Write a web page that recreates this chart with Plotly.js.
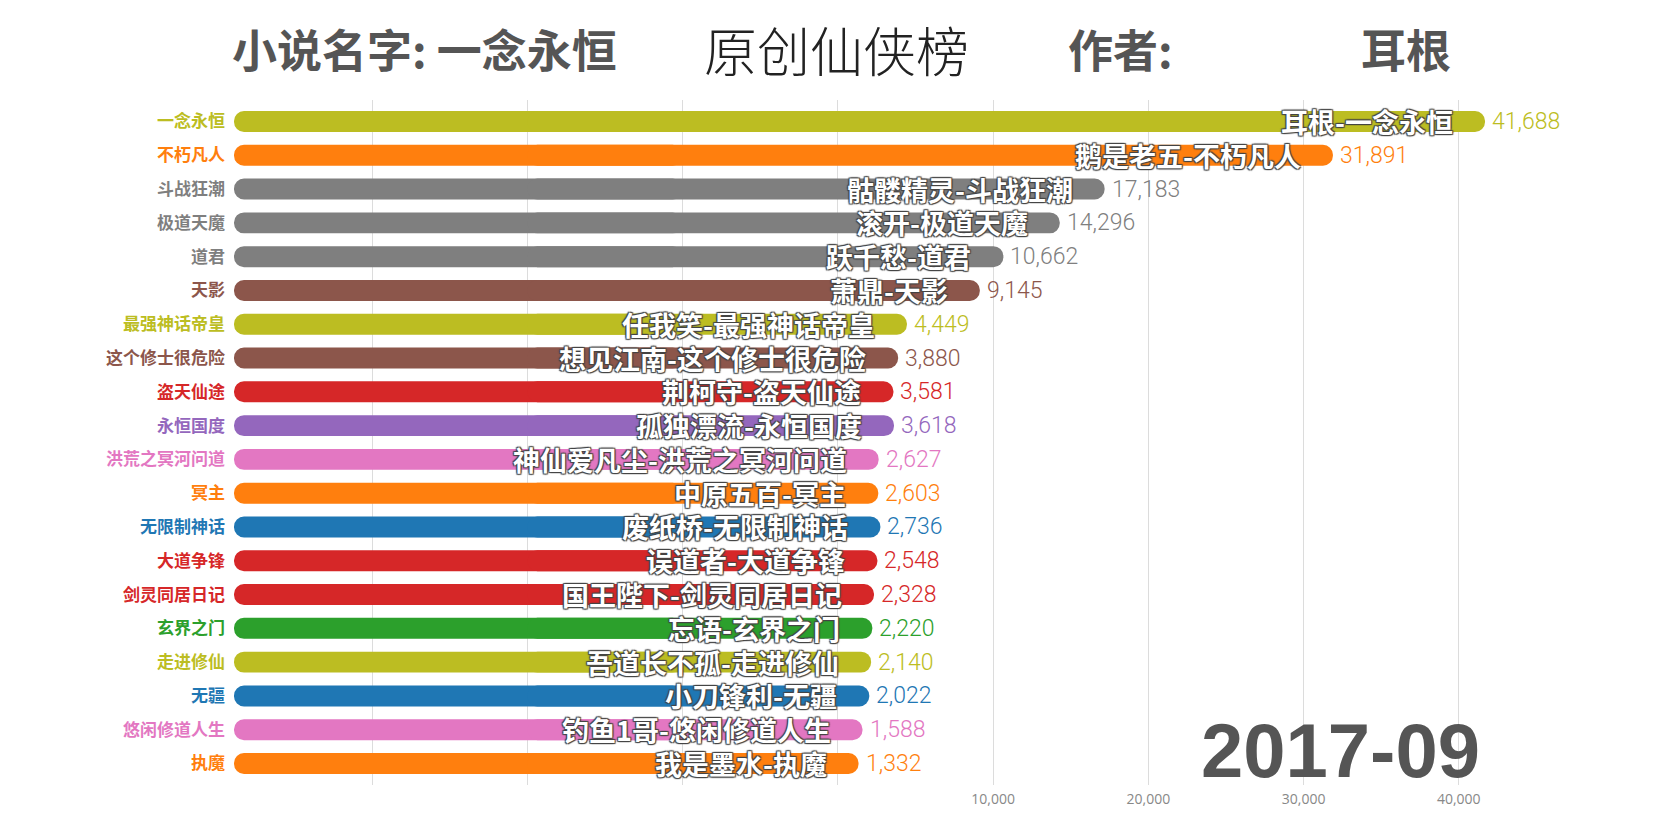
<!DOCTYPE html>
<html><head><meta charset="utf-8">
<script src="https://cdn.plot.ly/plotly-3.0.1.min.js"></script>
<style>html,body{margin:0;padding:0;background:#fff}</style>
</head><body>
<div id="chart" style="width:1680px;height:836px"></div>
<script>
// ---- data ----
const novels = ['一念永恒','不朽凡人','斗战狂潮','极道天魔','道君','天影','最强神话帝皇','这个修士很危险','盗天仙途','永恒国度','洪荒之冥河问道','冥主','无限制神话','大道争锋','剑灵同居日记','玄界之门','走进修仙','无疆','悠闲修道人生','执魔'];
const authors = ['耳根','鹅是老五','骷髅精灵','滚开','跃千愁','萧鼎','任我笑','想见江南','荆柯守','孤独漂流','神仙爱凡尘','中原五百','废纸桥','误道者','国王陛下','忘语','吾道长不孤','小刀锋利','钓鱼1哥','我是墨水'];
const values = [41688,31891,17183,14296,10662,9145,4449,3880,3581,3618,2627,2603,2736,2548,2328,2220,2140,2022,1588,1332];
const xTickVals = [-30000,-20000,-10000,0,10000,20000,30000,40000];
const xTickText = ['','','','','10,000','20,000','30,000','40,000'];
const period = '2017-09';
const titleNovel = '一念永恒';
const titleAuthor = '耳根';
const titleList = '原创仙侠榜';

// ---- styles ----
const C = {olive:'#bcbd22', orange:'#ff7f0e', gray:'#7f7f7f', brown:'#8c564b', red:'#d62728', purple:'#9467bd', pink:'#e377c2', blue:'#1f77b4', green:'#2ca02c'};
const barColors = [C.olive,C.orange,C.gray,C.gray,C.gray,C.brown,C.olive,C.brown,C.red,C.purple,C.pink,C.orange,C.blue,C.red,C.red,C.green,C.olive,C.blue,C.pink,C.orange];
const AXIS_MIN = -38900, AXIS_MAX = 48000;
const MAIN_BASE = -20000, TAIL_BASE = -10000;
const CJK = '"Noto Sans CJK SC", "Noto Sans", sans-serif';

// main bar: from MAIN_BASE to value (rounded right end)
const barMain = {
  type:'bar', orientation:'h', y: novels, x: values.map(v => v - MAIN_BASE), base: MAIN_BASE,
  marker:{color: barColors, cornerradius:'50%', line:{width:0}},
  hoverinfo:'skip', showlegend:false
};
// tail bar: from TAIL_BASE back to axis start (rounded left end), overlapping main bar
const barTail = {
  type:'bar', orientation:'h', y: novels, x: novels.map(() => AXIS_MIN - TAIL_BASE), base: TAIL_BASE,
  marker:{color: barColors, cornerradius:'50%', line:{width:0}},
  hoverinfo:'skip', showlegend:false
};

const annotations = [];
novels.forEach((n, i) => {
  annotations.push({
    x: values[i], y: n, xref:'x', yref:'y', xanchor:'right', yanchor:'middle', xshift:-30,
    text: '<b>' + authors[i] + '-' + n + '</b>', showarrow:false,
    font:{family:CJK, size:27, color:'#ffffff', shadow:'1px 1px 1px #444, -1px -1px 1px #444, 1px -1px 1px #444, -1px 1px 1px #444'}
  });
  annotations.push({
    x: values[i], y: n, xref:'x', yref:'y', xanchor:'left', yanchor:'middle', xshift:5,
    text: values[i].toLocaleString('en-US'), showarrow:false,
    font:{family:'Roboto, "Open Sans", sans-serif', weight:300, size:23, color: barColors[i]}
  });
});
const titleFont = {family:CJK, size:45, color:'#555555', weight:700};
annotations.push({xref:'paper', yref:'paper', x:-0.003, y:1.0745, xanchor:'left', yanchor:'middle', showarrow:false,
  text:'小说名字: ' + titleNovel, font:titleFont});
annotations.push({xref:'paper', yref:'paper', x:0.3468, y:1.0745, xanchor:'left', yanchor:'middle', showarrow:false,
  text:titleList, font:{family:CJK, size:53, color:'#222222', weight:300}});
annotations.push({xref:'paper', yref:'paper', x:0.6165, y:1.0745, xanchor:'left', yanchor:'middle', showarrow:false,
  text:'作者:', font:titleFont});
annotations.push({xref:'paper', yref:'paper', x:0.8336, y:1.0745, xanchor:'left', yanchor:'middle', showarrow:false,
  text:titleAuthor, font:titleFont});
annotations.push({xref:'paper', yref:'paper', x:0.9248, y:0.05, xanchor:'right', yanchor:'middle', showarrow:false,
  text:'<b>' + period + '</b>', font:{family:'"Liberation Sans", Arial, sans-serif', size:76, color:'#555555'}});

const layout = {
  width:1680, height:836,
  margin:{l:234, r:97, t:100, b:51},
  paper_bgcolor:'#ffffff', plot_bgcolor:'#ffffff',
  barmode:'overlay', bargap:0.38,
  showlegend:false,
  xaxis:{range:[AXIS_MIN, AXIS_MAX], tickmode:'array', tickvals:xTickVals, ticktext:xTickText,
    showgrid:true, gridcolor:'#dcdcdc', gridwidth:1, zeroline:false, showline:false, ticks:'',
    ticklabelstandoff:4,
    tickfont:{family:'"Open Sans", Roboto, sans-serif', size:14, color:'#888888'}, fixedrange:true},
  yaxis:{type:'category', categoryorder:'array', categoryarray:novels, autorange:'reversed',
    tickmode:'array', tickvals:novels,
    ticktext: novels.map((n,i) => '<span style="color:' + barColors[i] + '"><b>' + n + '</b></span>'),
    showgrid:false, zeroline:false, showline:false, ticks:'', ticklabelstandoff:8,
    tickfont:{family:CJK, size:17}, fixedrange:true},
  annotations: annotations
};
Plotly.newPlot('chart', [barTail, barMain], layout, {displayModeBar:false, staticPlot:true});
</script>
</body></html>
